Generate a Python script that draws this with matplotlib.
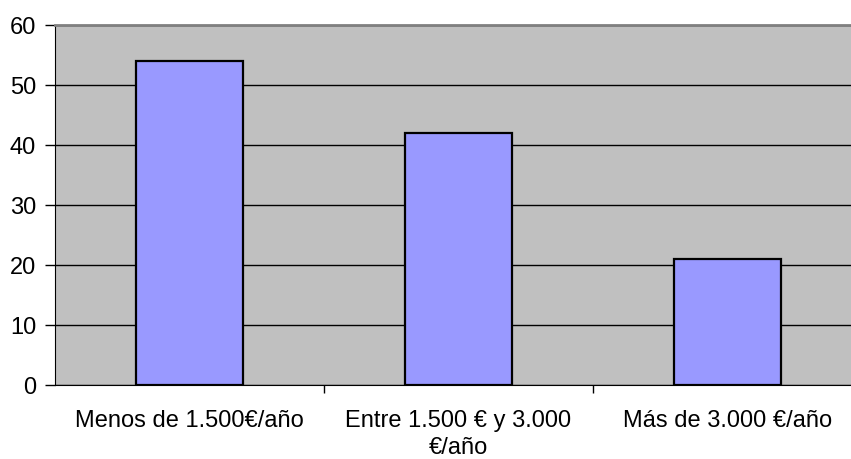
import numpy as np
import matplotlib.pyplot as plt

categorias = ['Menos de 1.500€/año', 'Entre 1.500 € y 3.000\n€/año', 'Más de 3.000 €/año']
valores = [54, 42, 21]

plt.rcParams['font.family'] = ['Liberation Sans', 'DejaVu Sans']

fig = plt.figure(figsize=(8.51, 4.59), dpi=100)
W, H = 851, 459
# area de trazado (se sale un poco por la derecha, como el original)
ax = fig.add_axes([55 / W, (H - 385) / H, (862 - 55) / W, (385 - 25) / H])
ax.set_facecolor('#C0C0C0')

x = np.arange(len(categorias))
ax.bar(x, valores, width=0.40, color='#9999FF', edgecolor='black', linewidth=1.6, zorder=3)

ax.set_xlim(-0.5, len(categorias) - 0.5)
ax.set_ylim(0, 60)
ax.set_yticks(range(0, 61, 10))
ax.yaxis.grid(True, color='black', linewidth=1, zorder=1)
ax.set_axisbelow(True)

ax.set_xticks(x)
ax.set_xticklabels(categorias, fontsize=17, linespacing=1.28)
ax.set_xticks([0.5, 1.5], minor=True)
ax.tick_params(axis='x', which='major', length=0, pad=18)
ax.tick_params(axis='x', which='minor', length=6, width=1, color='black')
ax.tick_params(axis='y', length=7, width=1, labelsize=17, pad=6.5)

for s in ['right']:
    ax.spines[s].set_visible(False)
ax.spines['top'].set_color('#808080')
ax.spines['top'].set_linewidth(2)
ax.spines['left'].set_color('black')
ax.spines['bottom'].set_color('black')

fig.savefig('out.png', dpi=100)
